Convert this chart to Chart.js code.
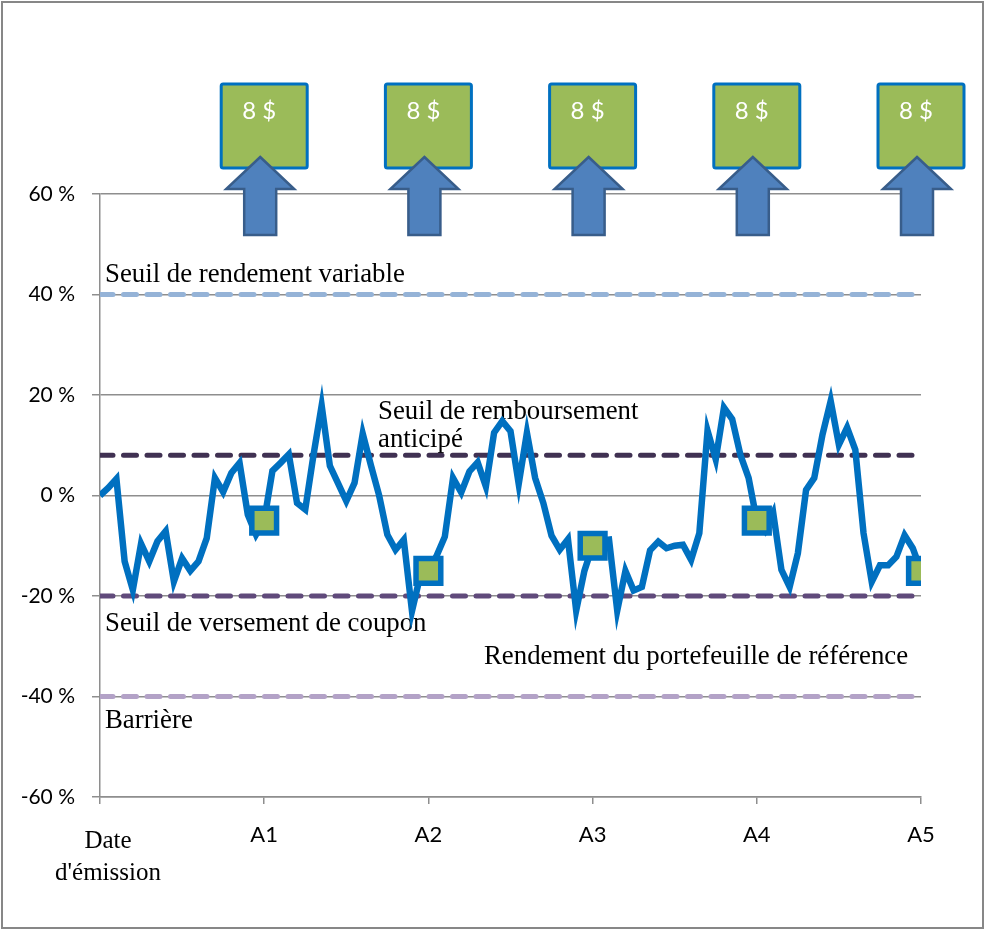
<!DOCTYPE html>
<html>
<head>
<meta charset="utf-8">
<script src="https://cdn.jsdelivr.net/npm/chart.js@4"></script>
<style>
  body { margin: 0; background: #fff; }
  #wrap { width: 985px; height: 930px; }
</style>
</head>
<body>
<div id="wrap"><canvas id="chart" width="985" height="930"></canvas></div>
<script>
// rendement du portefeuille, 20 observations par année
const perf = [
  0, 1.5, 3.3, -13.1, -18.8, -9.6, -13.1, -9.1, -7.1, -17.1,
  -12.5, -15, -13.1, -8.5, 3.5, 0.7, 4.5, 6.5, -3.8, -7.8,
  -5, 4.9, 6.5, 8.2, -1.5, -2.8, 8, 17.9, 5.9, 2.4,
  -1.1, 2.5, 12.3, 6, 0, -7.8, -10.8, -8.8, -23, -16,
  -15, -12, -8.2, 3.5, 0.6, 4.8, 6.6, 1.8, 12.5, 14.8,
  12.8, 2.3, 12.5, 3.5, -1.5, -8, -10.8, -8.7, -22.9, -15,
  -10, -9, -8.8, -22.9, -15, -18.9, -18.2, -10.9, -9.2, -10.5,
  -10, -9.8, -12.8, -7.5, 12.9, 7.2, 17.5, 15.2, 8.1, 3.5,
  -5, -7, -3.5, -14.8, -18.2, -11.5, 1.1, 3.5, 12.1, 18.8,
  10.1, 13.5, 9.1, -7.5, -17.2, -13.9, -13.9, -12.2, -7.9, -10.5,
  -15
];
const stepsPerYear = 20;

const obsYears = [1, 2, 3, 4, 5];
const obsValues = [-5, -15, -10, -5, -15];
const couponLabels = ['8 $', '8 $', '8 $', '8 $', '8 $'];

const xTickLabels = ['', 'A1', 'A2', 'A3', 'A4', 'A5'];
const startLabel = ['Date', "d'émission"];

const levelValues = [40, 8, -20, -40];
const levelColors = ['#95B3D7', '#403152', '#604A7B', '#B3A2C7'];

const serif = "'Liberation Serif', 'Times New Roman', serif";
const sans = "Lato, 'Open Sans', sans-serif";

const lineData = perf.map((v, i) => ({ x: i / stepsPerYear, y: v }));
const obsData = obsYears.map((x, i) => ({ x: x, y: obsValues[i] }));

const levelSets = levelValues.map((v, i) => ({
  data: [{ x: 0, y: v }, { x: 5, y: v }],
  borderColor: levelColors[i],
  borderWidth: 5,
  borderDash: [13, 10.5],
  borderCapStyle: 'round',
  pointRadius: 0,
  order: 3
}));

const labelsPlugin = {
  id: 'labels',
  beforeDatasetsDraw(chart) {
    const c = chart.ctx;
    const y = chart.scales.y;
    const left = chart.chartArea.left;
    c.save();
    c.fillStyle = '#000';
    c.font = '26.8px ' + serif;
    c.textBaseline = 'alphabetic';
    c.textAlign = 'left';
    c.fillText('Seuil de rendement variable', left + 5, y.getPixelForValue(40) - 13);
    c.fillText('Seuil de remboursement', left + 278, y.getPixelForValue(8) - 36);
    c.fillText('anticipé', left + 278, y.getPixelForValue(8) - 8);
    c.fillText('Seuil de versement de coupon', left + 5, y.getPixelForValue(-20) + 35);
    c.fillText('Rendement du portefeuille de référence', left + 384, y.getPixelForValue(-20) + 68);
    c.fillText('Barrière', left + 5, y.getPixelForValue(-40) + 31);
    c.restore();
  },
  afterDraw(chart) {
    const c = chart.ctx;
    const x = chart.scales.x;
    c.save();
    // cadre
    c.strokeStyle = '#878787';
    c.lineWidth = 2;
    c.strokeRect(2, 2, 981, 926);
    // libellé de la date d'émission
    c.fillStyle = '#000';
    c.font = '25px ' + serif;
    c.textAlign = 'center';
    c.textBaseline = 'alphabetic';
    const bottom = chart.chartArea.bottom;
    startLabel.forEach((t, i) => c.fillText(t, x.getPixelForValue(0) + 8, bottom + 51 + i * 32));
    obsYears.forEach((yr, i) => {
      const cx = x.getPixelForValue(yr);
      // boîte coupon
      c.fillStyle = '#9BBB59';
      c.strokeStyle = '#0070C0';
      c.lineWidth = 3;
      c.beginPath();
      c.roundRect(cx - 43, 84, 86, 84, 2);
      c.fill();
      c.stroke();
      c.fillStyle = '#fff';
      c.font = '24px ' + sans;
      c.textAlign = 'center';
      c.textBaseline = 'middle';
      c.fillText(couponLabels[i], cx - 5, 111);
      // flèche
      const ax = cx - 4;
      c.beginPath();
      c.moveTo(ax, 157);
      c.lineTo(ax + 34, 189);
      c.lineTo(ax + 16, 189);
      c.lineTo(ax + 16, 235);
      c.lineTo(ax - 16, 235);
      c.lineTo(ax - 16, 189);
      c.lineTo(ax - 34, 189);
      c.closePath();
      c.fillStyle = '#4F81BD';
      c.strokeStyle = '#385D8A';
      c.lineWidth = 2.5;
      c.lineJoin = 'miter';
      c.fill();
      c.stroke();
    });
    c.restore();
  }
};

const ctx = document.getElementById('chart').getContext('2d');

const chart = new Chart(ctx, {
  type: 'line',
  data: {
    datasets: [
      {
        data: obsData,
        showLine: false,
        pointStyle: 'rect',
        pointRadius: 17.5,
        pointBorderWidth: 5.5,
        pointBackgroundColor: '#9BBB59',
        pointBorderColor: '#0070C0',
        order: 1
      },
      {
        data: lineData,
        borderColor: '#0070C0',
        borderWidth: 6.5,
        pointRadius: 0,
        tension: 0,
        order: 2
      },
      ...levelSets
    ]
  },
  options: {
    responsive: false,
    animation: false,
    devicePixelRatio: 1,
    layout: { padding: { left: 0, top: 194, right: 64, bottom: 0 } },
    plugins: {
      legend: { display: false },
      tooltip: { enabled: false }
    },
    scales: {
      x: {
        type: 'linear',
        min: 0,
        max: 5,
        afterFit(scale) { scale.height = 133; },
        border: { color: '#8e8e8e', width: 1.5 },
        grid: { drawOnChartArea: false, drawTicks: true, tickLength: 7, color: '#8e8e8e', lineWidth: 1.5 },
        ticks: {
          stepSize: 1,
          padding: 18,
          color: '#000',
          maxRotation: 0,
          autoSkip: false,
          callback: (v) => xTickLabels[v],
          font: { family: sans, size: 22 }
        }
      },
      y: {
        min: -60,
        max: 60,
        afterFit(scale) { scale.width = 100; },
        border: { color: '#8e8e8e', width: 1.5 },
        grid: { color: '#8e8e8e', lineWidth: 1.5, tickLength: 8 },
        ticks: {
          stepSize: 20,
          padding: 17,
          color: '#000',
          font: { family: sans, size: 21 },
          callback: (v) => v + ' %'
        }
      }
    }
  },
  plugins: [labelsPlugin]
});
</script>
</body>
</html>
